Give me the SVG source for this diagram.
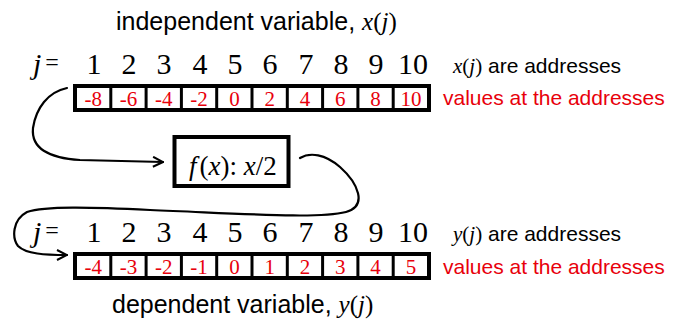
<svg xmlns="http://www.w3.org/2000/svg" width="674" height="327" viewBox="0 0 674 327">
<style>
.sans{font-family:"Liberation Sans",Arial,sans-serif;fill:#000}
.serif{font-family:"Liberation Serif","Times New Roman",serif;fill:#000}
.it{font-style:italic}
.red{fill:#e8000b}
.idx{font-family:"Liberation Serif","Times New Roman",serif;font-size:30px;text-anchor:middle;fill:#000}
.val{font-family:"Liberation Serif","Times New Roman",serif;font-size:21px;text-anchor:middle;fill:#e8000b}
.cell{fill:#fff}
.frame{fill:#000}
.conn{fill:none;stroke:#000;stroke-width:2.2;stroke-linecap:round}
</style>
<defs>
<marker id="arr" viewBox="0 0 12 12" refX="11" refY="6" markerWidth="12" markerHeight="12" markerUnits="userSpaceOnUse" orient="auto">
<path d="M1,1 L11,6 L1,11" fill="none" stroke="#000" stroke-width="2"/>
</marker>
</defs>
<rect width="674" height="327" fill="#fff"/>

<g id="title-top">
<text class="sans" x="116" y="30" font-size="25">independent variable, <tspan class="serif it">x</tspan><tspan class="serif">(</tspan><tspan class="serif it">j</tspan><tspan class="serif">)</tspan></text>
</g>

<g id="index-top">
<text class="serif" x="33" y="74" font-size="30"><tspan class="it">j</tspan><tspan font-size="24" dx="4" dy="-4">=</tspan></text>
<text class="idx" y="74"><tspan x="94">1</tspan><tspan x="129">2</tspan><tspan x="164">3</tspan><tspan x="200">4</tspan><tspan x="235">5</tspan><tspan x="270">6</tspan><tspan x="306">7</tspan><tspan x="341">8</tspan><tspan x="376">9</tspan><tspan x="413">10</tspan></text>
<text x="453" y="73" font-size="21"><tspan class="serif it">x</tspan><tspan class="serif">(</tspan><tspan class="serif it">j</tspan><tspan class="serif">)</tspan><tspan class="sans"> are addresses</tspan></text>
</g>

<g id="array-x">
<rect class="frame" x="73" y="84" width="358" height="28"/>
<rect class="cell" x="77" y="88" width="32.3" height="20"/>
<rect class="cell" x="112.3" y="88" width="32.3" height="20"/>
<rect class="cell" x="147.6" y="88" width="32.3" height="20"/>
<rect class="cell" x="182.9" y="88" width="32.3" height="20"/>
<rect class="cell" x="218.2" y="88" width="32.3" height="20"/>
<rect class="cell" x="253.5" y="88" width="32.3" height="20"/>
<rect class="cell" x="288.8" y="88" width="32.3" height="20"/>
<rect class="cell" x="324.1" y="88" width="32.3" height="20"/>
<rect class="cell" x="359.4" y="88" width="32.3" height="20"/>
<rect class="cell" x="394.7" y="88" width="32.3" height="20"/>
<text class="val" y="105.5"><tspan x="93.2">-8</tspan><tspan x="128.5">-6</tspan><tspan x="163.8">-4</tspan><tspan x="199.1">-2</tspan><tspan x="234.4">0</tspan><tspan x="269.7">2</tspan><tspan x="305">4</tspan><tspan x="340.3">6</tspan><tspan x="375.6">8</tspan><tspan x="410.9">10</tspan></text>
<text class="sans red" x="443" y="105" font-size="21">values at the addresses</text>
</g>

<g id="function">
<rect x="174.5" y="137" width="114" height="49" fill="#fff" stroke="#000" stroke-width="4"/>
<text class="serif" x="189" y="175" font-size="27"><tspan class="it">f</tspan><tspan dx="3">(</tspan><tspan class="it">x</tspan><tspan>): </tspan><tspan class="it">x</tspan><tspan>/2</tspan></text>
</g>

<g id="index-bottom">
<text class="serif" x="33" y="242" font-size="30"><tspan class="it">j</tspan><tspan font-size="24" dx="4" dy="-4">=</tspan></text>
<text class="idx" y="242"><tspan x="94">1</tspan><tspan x="129">2</tspan><tspan x="164">3</tspan><tspan x="200">4</tspan><tspan x="235">5</tspan><tspan x="270">6</tspan><tspan x="306">7</tspan><tspan x="341">8</tspan><tspan x="376">9</tspan><tspan x="413">10</tspan></text>
<text x="453" y="241" font-size="21"><tspan class="serif it">y</tspan><tspan class="serif">(</tspan><tspan class="serif it">j</tspan><tspan class="serif">)</tspan><tspan class="sans"> are addresses</tspan></text>
</g>

<g id="array-y">
<rect class="frame" x="73" y="252" width="358" height="28"/>
<rect class="cell" x="77" y="256" width="32.3" height="20"/>
<rect class="cell" x="112.3" y="256" width="32.3" height="20"/>
<rect class="cell" x="147.6" y="256" width="32.3" height="20"/>
<rect class="cell" x="182.9" y="256" width="32.3" height="20"/>
<rect class="cell" x="218.2" y="256" width="32.3" height="20"/>
<rect class="cell" x="253.5" y="256" width="32.3" height="20"/>
<rect class="cell" x="288.8" y="256" width="32.3" height="20"/>
<rect class="cell" x="324.1" y="256" width="32.3" height="20"/>
<rect class="cell" x="359.4" y="256" width="32.3" height="20"/>
<rect class="cell" x="394.7" y="256" width="32.3" height="20"/>
<text class="val" y="273.5"><tspan x="93.2">-4</tspan><tspan x="128.5">-3</tspan><tspan x="163.8">-2</tspan><tspan x="199.1">-1</tspan><tspan x="234.4">0</tspan><tspan x="269.7">1</tspan><tspan x="305">2</tspan><tspan x="340.3">3</tspan><tspan x="375.6">4</tspan><tspan x="410.9">5</tspan></text>
<text class="sans red" x="443" y="274" font-size="21">values at the addresses</text>
</g>

<g id="title-bottom">
<text class="sans" x="112" y="313" font-size="25">dependent variable, <tspan class="serif it">y</tspan><tspan class="serif">(</tspan><tspan class="serif it">j</tspan><tspan class="serif">)</tspan></text>
</g>

<g id="connectors">
<path class="conn" marker-end="url(#arr)" d="M67,88 C48,92 36,108 33,128 C31,148 48,158 80,160 L163,162"/>
<path class="conn" marker-end="url(#arr)" d="M300,158 C310,152 325,154 340,167 C358,183 368,206 346,212 C318,219 250,214 150,210 C90,207 45,206 27,212 C12,220 12,238 18,246 C26,254 45,255 67,255"/>
</g>
</svg>
